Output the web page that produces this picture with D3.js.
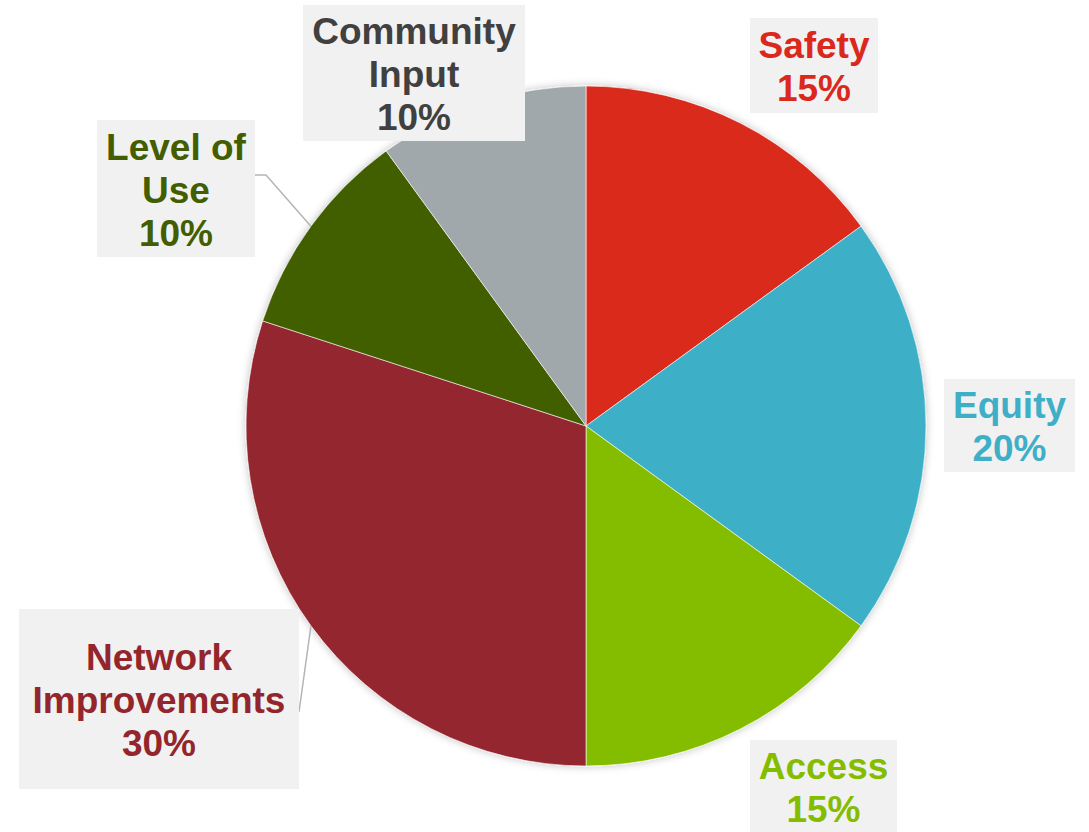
<!DOCTYPE html>
<meta charset="utf-8">
<head>
<script src="https://d3js.org/d3.v7.min.js"></script>
<style>
  body { margin: 0; background: #fff; }
  text { font-family: "Liberation Sans", Arial, sans-serif; font-weight: bold; }
</style>
</head>
<body>
<svg id="chart"></svg>
<script>
// data, clockwise from 12 o'clock
var categories = ["Safety", "Equity", "Access", "Network Improvements", "Level of Use", "Community Input"];
var values = [15, 20, 15, 30, 10, 10];
var sliceColors = ["#da291c", "#3eafc7", "#84bd00", "#93262d", "#425e00", "#a1a8ab"];
var labelColors = ["#da291c", "#3eafc7", "#84bd00", "#93262d", "#425e00", "#404040"];
var labelLines = [["Safety"], ["Equity"], ["Access"], ["Network", "Improvements"], ["Level of", "Use"], ["Community", "Input"]];

// label box layout [x, y, w, h]
var boxes = [
  [750, 18, 128, 95],
  [944, 379, 131, 93],
  [750, 740, 147, 92],
  [19, 609, 280, 180],
  [97, 120, 158, 137],
  [303, 5, 222, 136]
];

var W = 1089, H = 832;
var cx = 586, cy = 426, R = 340;

var svg = d3.select("#chart").attr("width", W).attr("height", H);

var defs = svg.append("defs");
var f = defs.append("filter").attr("id", "shadow").attr("x", "-10%").attr("y", "-10%").attr("width", "120%").attr("height", "120%");
f.append("feGaussianBlur").attr("in", "SourceAlpha").attr("stdDeviation", 4);
f.append("feOffset").attr("dx", 0).attr("dy", 0).attr("result", "b");
f.append("feComponentTransfer").append("feFuncA").attr("type", "linear").attr("slope", 0.25);
var m = f.append("feMerge");
m.append("feMergeNode");
m.append("feMergeNode").attr("in", "SourceGraphic");

var pie = d3.pie().sort(null).value(function(d){ return d; });
var arcs = pie(values);
var arc = d3.arc().innerRadius(0).outerRadius(R);

var g = svg.append("g").attr("transform", "translate(" + cx + "," + cy + ")");

g.append("g").attr("filter", "url(#shadow)")
  .selectAll("path").data(arcs).enter().append("path")
  .attr("d", arc)
  .attr("fill", function(d,i){ return sliceColors[i]; })
  .attr("stroke", "#fff").attr("stroke-width", 0.6);

// leader lines for the two left labels
function edgePoint(d){
  var a = (d.startAngle + d.endAngle) / 2;
  return [cx + R * Math.sin(a), cy - R * Math.cos(a)];
}
var lu = edgePoint(arcs[4]);
svg.append("polyline")
  .attr("points", [[boxes[4][0] + boxes[4][2], 175], [266, 175], lu].join(" "))
  .attr("fill", "none").attr("stroke", "#b2b6b9").attr("stroke-width", 1.5);
var ni = edgePoint(arcs[3]);
svg.append("polyline")
  .attr("points", [[boxes[3][0] + boxes[3][2], 712], ni].join(" "))
  .attr("fill", "none").attr("stroke", "#b2b6b9").attr("stroke-width", 1.5);

// labels
var lg = svg.selectAll("g.lab").data(categories).enter().append("g").attr("class", "lab");
lg.append("rect")
  .attr("x", function(d,i){ return boxes[i][0]; })
  .attr("y", function(d,i){ return boxes[i][1]; })
  .attr("width", function(d,i){ return boxes[i][2]; })
  .attr("height", function(d,i){ return boxes[i][3]; })
  .attr("fill", "#f1f1f1");

var lh = 43;
lg.each(function(d, i){
  var b = boxes[i];
  var lines = labelLines[i].concat([values[i] + "%"]);
  var t = d3.select(this).append("text")
    .attr("text-anchor", "middle")
    .attr("fill", labelColors[i])
    .style("font-size", "37px");
  var y0 = b[1] + b[3] / 2 - (lines.length - 1) * lh / 2 + 14;
  lines.forEach(function(s, k){
    t.append("tspan").attr("x", b[0] + b[2] / 2).attr("y", y0 + k * lh).text(s);
  });
});
</script>
</body>
</html>
